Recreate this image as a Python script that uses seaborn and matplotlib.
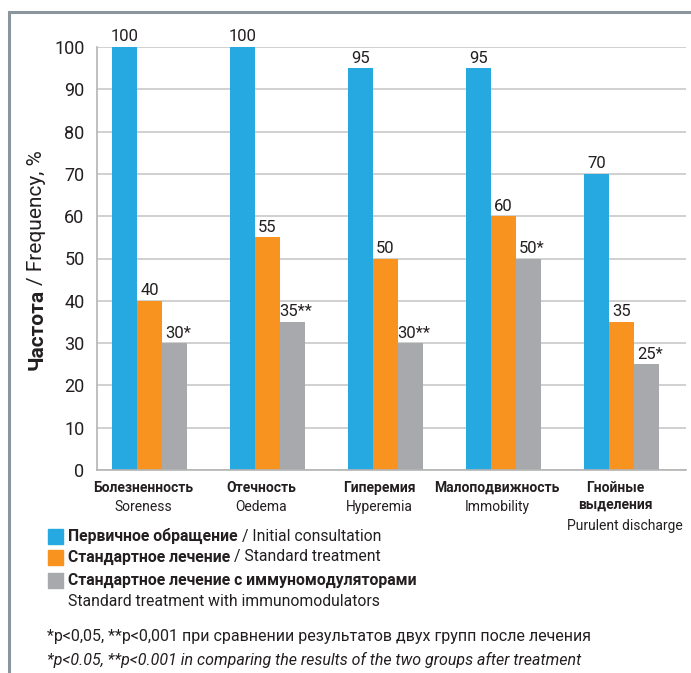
import pandas as pd
import matplotlib.pyplot as plt
import seaborn as sns
from matplotlib.patches import Rectangle

# data
cats_ru = ["Болезненность", "Отечность", "Гиперемия", "Малоподвижность", "Гнойные\nвыделения"]
cats_en = ["Soreness", "Oedema", "Hyperemia", "Immobility", "Purulent discharge"]
groups = ["Первичное обращение", "Стандартное лечение", "Стандартное лечение с иммуномодуляторами"]
groups_en = ["Initial consultation", "Standard treatment", "Standard treatment with immunomodulators"]
initial = [100, 100, 95, 95, 70]
standard = [40, 55, 50, 60, 35]
immuno = [30, 35, 30, 50, 25]
stars = ["*", "**", "**", "*", "*"]
colors = ["#25a9e0", "#f7931e", "#a7a9ac"]

rows = []
for i, c in enumerate(cats_en):
    for g, vals in zip(groups, [initial, standard, immuno]):
        rows.append({"cat": c, "group": g, "value": vals[i]})
df = pd.DataFrame(rows)

sns.set_style("white")
plt.rcParams['font.family'] = ['Roboto', 'DejaVu Sans']
W, H = 691, 673
ink = "#231f20"

fig = plt.figure(figsize=(6.91, 6.73), dpi=100)
ax = fig.add_axes([97/W, 1-470/H, 589/W, 423/H])

sns.barplot(data=df, x="cat", y="value", hue="group", palette=colors,
            width=0.636, saturation=1, linewidth=0, ax=ax, legend=False)

ax.set_ylim(0, 100)
ax.set_xlim(-0.445, 4.547)
ax.set_yticks(range(0, 101, 10))
ax.tick_params(axis="y", labelsize=13, length=0, pad=9, labelcolor=ink)
ax.set_xticks([])
ax.set_xlabel("")
ax.set_ylabel("")
ax.yaxis.grid(True, color="#c8c8c8", linewidth=1.2)
ax.set_axisbelow(True)
for s in ["top", "right"]:
    ax.spines[s].set_visible(False)
for s in ["left", "bottom"]:
    ax.spines[s].set_color("#b4b4b4")
    ax.spines[s].set_linewidth(1.2)

# value labels
for k, cont in enumerate(ax.containers):
    for i, bar in enumerate(cont):
        v = [initial, standard, immuno][k][i]
        txt = str(v) + (stars[i] if k == 2 else "")
        ax.text(bar.get_x() + bar.get_width()/2 + (0.03 if k == 2 else 0), v + 0.6, txt,
                ha="center", va="bottom", fontsize=12, color=ink)

# category labels
for i in range(5):
    ax.text(i - 0.055, -2.5, cats_ru[i], ha="center", va="top", fontsize=10,
            fontweight="bold", color=ink, linespacing=1.25)
    yoff = -11.6 if i == 4 else -7.2
    xoff = 0.03 if i == 4 else -0.055
    ax.text(i + xoff, yoff, cats_en[i], ha="center", va="top", fontsize=10,
            color=ink)

# y label (bold part + regular part)
t1 = fig.text(37/W, 1-370/H, "Частота", rotation=90, ha="center", va="bottom",
              fontsize=15, fontweight="bold", color=ink)
fig.canvas.draw()
bb = t1.get_window_extent()
fig.text(37/W, (bb.y1 + 4)/H, "/ Frequency, %", rotation=90, ha="center", va="bottom",
         fontsize=15, color=ink)

# legend
leg_y = [536, 557, 580]
for y, c, g, ge in zip(leg_y, colors, groups, groups_en):
    fig.patches.append(Rectangle((48/W, 1-(y+7.5)/H), 15/W, 15/H,
                                 transform=fig.transFigure, color=c))
    t = fig.text(68/W, 1-y/H, g, ha="left", va="center", fontsize=11.3,
                 fontweight="bold", color=ink)
    if c != colors[2]:
        fig.canvas.draw()
        bb = t.get_window_extent()
        fig.text((bb.x1 + 4)/W, 1-y/H, "/ " + ge, ha="left", va="center",
                 fontsize=11.3, color=ink)
fig.text(68/W, 1-602/H, groups_en[2], ha="left", va="center", fontsize=11.3, color=ink)

# footnotes
fig.text(47/W, 1-637/H, "*p<0,05, **p<0,001 при сравнении результатов двух групп после лечения",
         ha="left", va="center", fontsize=11.5, color=ink)
fig.text(47/W, 1-660/H, "*p<0.05, **p<0.001 in comparing the results of the two groups after treatment",
         ha="left", va="center", fontsize=11.5, style="italic", color=ink)

# frame
fig.patches.append(Rectangle((9/W, -0.1), 1.1, 1.1 - 12/H, transform=fig.transFigure,
                             fill=False, edgecolor="#8a969c", linewidth=2.2))

fig.savefig("out.png", dpi=100)
